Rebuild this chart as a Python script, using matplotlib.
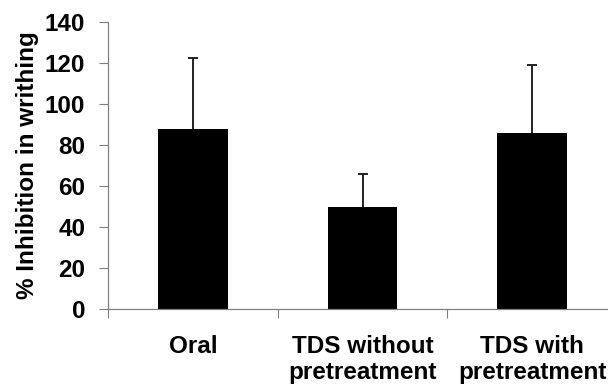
import matplotlib
matplotlib.use("Agg")
import matplotlib.pyplot as plt
import numpy as np

categories = ["Oral", "TDS without\npretreatment", "TDS with\npretreatment"]
values = [88.0, 50.0, 85.7]
errors_upper = [34.6, 16.0, 33.2]
yticks = [0, 20, 40, 60, 80, 100, 120, 140]
ylabel = "% Inhibition in writhing"

plt.rcParams['font.family'] = ['Liberation Sans', 'DejaVu Sans']
plt.rcParams['font.weight'] = 'bold'
FS = 17.5

fig = plt.figure(figsize=(6.08, 3.87), dpi=100)
W, H = 608, 387
left, right, top, bottom = 108, 617, 22, 309
ax = fig.add_axes([left / W, 1 - bottom / H, (right - left) / W, (bottom - top) / H])

x = np.arange(len(categories))
ax.bar(x, values, width=0.41, color='black', zorder=2)
eb = ax.errorbar(x, values, yerr=[np.zeros(len(values)), errors_upper], fmt='none',
                 ecolor='#222222', elinewidth=1.4, capsize=3.8, capthick=1.4, zorder=3)
# hide the lower caps (sitting on the bar tops)
eb[1][0].set_visible(False)

ax.set_xlim(-0.5, len(categories) - 0.5)
ax.set_ylim(0, 140)
ax.set_yticks(yticks)
ax.set_yticklabels([str(t) for t in yticks], fontsize=FS, fontweight='bold')

ax.set_xticks(np.arange(len(categories) + 1) - 0.5)
ax.set_xticklabels([])
ax.set_xticks(x, minor=True)
ax.set_xticklabels(categories, minor=True, fontsize=FS, fontweight='bold',
                   linespacing=1.17)
ax.tick_params(axis='x', which='minor', length=0, pad=18.5)
ax.tick_params(axis='x', which='major', length=6.3, width=0.8, color='#808080', direction='out')
ax.tick_params(axis='y', length=6.3, width=0.8, color='#808080', direction='out', pad=10)

for s in ['top', 'right']:
    ax.spines[s].set_visible(False)
for s in ['left', 'bottom']:
    ax.spines[s].set_color('#808080')
    ax.spines[s].set_linewidth(0.9)

ax.set_ylabel(ylabel, fontsize=FS, fontweight='bold', labelpad=4)

fig.savefig("out.png", dpi=100)
